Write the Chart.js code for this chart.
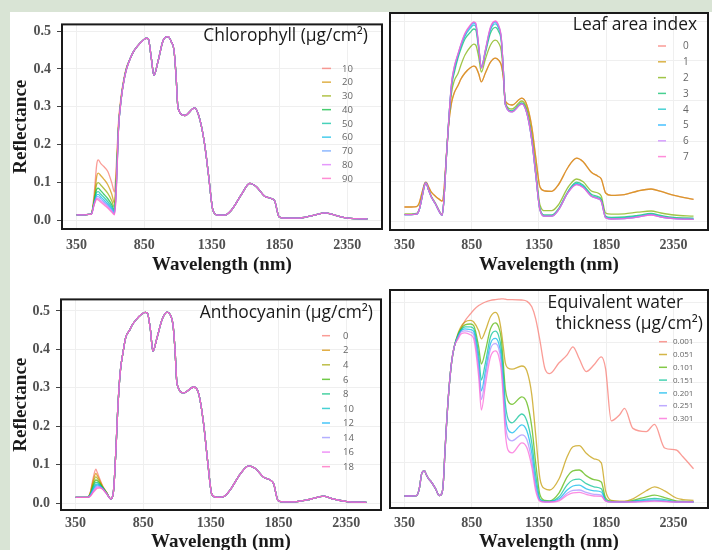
<!DOCTYPE html>
<html>
<head>
<meta charset="utf-8">
<script src="https://cdn.jsdelivr.net/npm/chart.js@4.4.0/dist/chart.umd.min.js"></script>
<style>
body { margin: 0; width: 712px; height: 550px; overflow: hidden; background: #d9e4d5; position: relative; }
#card { position: absolute; left: 10px; top: 12px; width: 702px; height: 538px; background: #fff; }
canvas { position: absolute; }
</style>
</head>
<body>
<div id="card"></div>
<canvas id="chl" width="376" height="270" style="left:10px;top:10px"></canvas>
<canvas id="lai" width="326" height="270" style="left:386px;top:10px"></canvas>
<canvas id="anth" width="376" height="280" style="left:10px;top:285px"></canvas>
<canvas id="ewt" width="326" height="280" style="left:386px;top:285px"></canvas>
<script>
// wavelength grids (nm)
var wlHead = [350,400,440,460,480,500,510,530,550,580,610,630,640,650,660,680,700,720];
var wlTail = [750,770,800,840,865,880,902,922,952,990,1026,1050,1070,1085,1100,1150,1223,1260,1297,1326,1358,1395,1445,1494,1568,1630,1679,1740,1789,1814,1846,1888,1986,2085,2184,2258,2356,2500];
var wlEwtTail = [750,770,800,840,865,902,922,952,990,1026,1050,1070,1085,1100,1120,1150,1223,1260,1297,1326,1358,1395,1430,1500,1560,1603,1650,1702,1760,1814,1846,1888,1950,1987,2049,2148,2210,2285,2371,2421,2500];

var xTicks = [350, 850, 1350, 1850, 2350];
var yTicks = [0, 0.1, 0.2, 0.3, 0.4, 0.5];

// Chlorophyll (ug/cm2)
var chlLevels = ['10','20','30','40','50','60','70','80','90'];
var chlVis = [
  [0.015,0.015,0.016,0.018,0.07,0.15,0.16,0.15,0.143,0.13,0.10,0.075,0.12,0.19,0.26,0.33,0.375,0.405],
  [0.015,0.015,0.016,0.018,0.058,0.118,0.125,0.118,0.11,0.095,0.07,0.046,0.095,0.17,0.25,0.325,0.372,0.403],
  [0.015,0.015,0.016,0.018,0.053,0.097,0.1,0.093,0.085,0.072,0.052,0.035,0.08,0.16,0.245,0.323,0.37,0.402],
  [0.015,0.015,0.016,0.018,0.05,0.083,0.085,0.078,0.07,0.058,0.042,0.028,0.07,0.155,0.243,0.322,0.37,0.402],
  [0.015,0.015,0.016,0.018,0.047,0.075,0.076,0.069,0.062,0.05,0.036,0.024,0.064,0.15,0.242,0.321,0.37,0.401],
  [0.015,0.015,0.016,0.017,0.045,0.068,0.069,0.062,0.055,0.044,0.031,0.021,0.06,0.146,0.241,0.32,0.369,0.401],
  [0.015,0.015,0.016,0.017,0.043,0.063,0.063,0.057,0.05,0.04,0.028,0.019,0.056,0.143,0.24,0.32,0.369,0.4],
  [0.015,0.015,0.016,0.017,0.042,0.059,0.058,0.052,0.046,0.036,0.025,0.017,0.053,0.14,0.24,0.32,0.368,0.4],
  [0.015,0.015,0.016,0.017,0.041,0.056,0.054,0.048,0.042,0.033,0.022,0.015,0.05,0.138,0.24,0.32,0.368,0.4]
];
var chlTail = [0.43,0.445,0.46,0.475,0.481,0.48,0.43,0.383,0.42,0.475,0.485,0.472,0.45,0.385,0.297,0.277,0.297,0.268,0.20,0.118,0.027,0.014,0.014,0.027,0.068,0.098,0.089,0.064,0.058,0.052,0.01,0.006,0.006,0.012,0.02,0.014,0.006,0.004];

// Leaf area index
var laiLevels = ['0','1','2','3','4','5','6','7'];
var laiVis = [
  [0.035,0.035,0.036,0.045,0.07,0.094,0.097,0.085,0.072,0.062,0.054,0.05,0.062,0.105,0.155,0.245,0.295,0.32],
  [0.035,0.035,0.036,0.045,0.07,0.094,0.097,0.085,0.072,0.062,0.054,0.05,0.062,0.105,0.155,0.245,0.295,0.32],
  [0.018,0.018,0.019,0.03,0.06,0.092,0.096,0.078,0.062,0.045,0.025,0.016,0.04,0.09,0.15,0.25,0.32,0.35],
  [0.016,0.016,0.017,0.028,0.058,0.09,0.095,0.077,0.06,0.043,0.023,0.014,0.038,0.088,0.15,0.255,0.335,0.37],
  [0.016,0.016,0.017,0.028,0.058,0.09,0.095,0.077,0.06,0.043,0.023,0.014,0.038,0.088,0.15,0.255,0.34,0.378],
  [0.016,0.016,0.017,0.028,0.058,0.09,0.095,0.077,0.06,0.043,0.023,0.014,0.038,0.088,0.15,0.255,0.342,0.382],
  [0.016,0.016,0.017,0.028,0.058,0.09,0.095,0.077,0.06,0.043,0.023,0.014,0.038,0.088,0.15,0.255,0.343,0.384],
  [0.016,0.016,0.017,0.028,0.058,0.09,0.095,0.077,0.06,0.043,0.023,0.014,0.038,0.088,0.15,0.255,0.344,0.385]
];
var laiTail = [
  [0.34,0.355,0.37,0.383,0.387,0.385,0.368,0.348,0.37,0.397,0.407,0.402,0.39,0.36,0.30,0.29,0.307,0.29,0.235,0.16,0.085,0.075,0.074,0.09,0.135,0.157,0.148,0.122,0.112,0.105,0.07,0.064,0.066,0.075,0.08,0.074,0.064,0.054],
  [0.34,0.355,0.37,0.383,0.387,0.385,0.368,0.348,0.37,0.397,0.407,0.402,0.39,0.36,0.30,0.29,0.307,0.29,0.235,0.16,0.085,0.075,0.074,0.09,0.135,0.157,0.148,0.122,0.112,0.105,0.07,0.064,0.066,0.075,0.08,0.074,0.064,0.054],
  [0.37,0.39,0.415,0.435,0.442,0.44,0.41,0.372,0.405,0.44,0.452,0.445,0.425,0.37,0.295,0.28,0.30,0.28,0.215,0.13,0.04,0.026,0.026,0.04,0.085,0.105,0.098,0.075,0.07,0.062,0.02,0.017,0.018,0.022,0.025,0.02,0.015,0.012],
  [0.41,0.43,0.455,0.472,0.48,0.478,0.43,0.384,0.42,0.47,0.484,0.474,0.45,0.38,0.293,0.275,0.295,0.273,0.205,0.12,0.03,0.015,0.015,0.03,0.075,0.097,0.09,0.067,0.061,0.054,0.012,0.009,0.01,0.014,0.019,0.014,0.009,0.007],
  [0.415,0.437,0.462,0.482,0.49,0.487,0.435,0.385,0.425,0.478,0.493,0.482,0.455,0.38,0.292,0.274,0.294,0.271,0.203,0.118,0.028,0.013,0.013,0.028,0.073,0.094,0.087,0.064,0.058,0.051,0.01,0.007,0.008,0.012,0.017,0.012,0.007,0.005],
  [0.418,0.44,0.466,0.487,0.495,0.492,0.437,0.383,0.426,0.482,0.497,0.486,0.457,0.38,0.291,0.273,0.293,0.27,0.202,0.117,0.027,0.012,0.012,0.027,0.072,0.092,0.085,0.062,0.056,0.049,0.008,0.005,0.006,0.01,0.016,0.01,0.006,0.004],
  [0.419,0.441,0.468,0.489,0.497,0.494,0.438,0.382,0.427,0.484,0.499,0.488,0.458,0.38,0.291,0.273,0.293,0.27,0.202,0.117,0.027,0.012,0.012,0.027,0.072,0.091,0.084,0.062,0.056,0.049,0.008,0.005,0.006,0.01,0.015,0.01,0.006,0.004],
  [0.42,0.442,0.469,0.49,0.498,0.495,0.439,0.382,0.428,0.485,0.5,0.489,0.459,0.38,0.291,0.273,0.293,0.27,0.202,0.117,0.027,0.012,0.012,0.027,0.072,0.091,0.084,0.062,0.056,0.049,0.008,0.005,0.006,0.01,0.015,0.01,0.006,0.004]
];

// Anthocyanin (ug/cm2)
var anthLevels = ['0','2','4','6','8','10','12','14','16','18'];
var anthVis = [
  [0.015,0.015,0.015,0.03,0.065,0.088,0.08,0.062,0.045,0.028,0.011,0.03,0.08,0.15,0.23,0.34,0.39,0.43],
  [0.015,0.015,0.015,0.028,0.058,0.077,0.072,0.058,0.043,0.027,0.011,0.03,0.08,0.15,0.23,0.34,0.39,0.43],
  [0.015,0.015,0.015,0.026,0.052,0.068,0.065,0.054,0.042,0.027,0.011,0.03,0.08,0.15,0.23,0.34,0.39,0.43],
  [0.015,0.015,0.015,0.024,0.046,0.06,0.059,0.051,0.041,0.026,0.011,0.03,0.08,0.15,0.23,0.34,0.39,0.43],
  [0.015,0.015,0.015,0.023,0.042,0.054,0.054,0.048,0.04,0.026,0.011,0.03,0.08,0.15,0.23,0.34,0.39,0.43],
  [0.015,0.015,0.015,0.022,0.038,0.049,0.05,0.046,0.039,0.025,0.011,0.03,0.08,0.15,0.23,0.34,0.39,0.43],
  [0.015,0.015,0.015,0.021,0.035,0.045,0.047,0.044,0.038,0.025,0.011,0.03,0.08,0.15,0.23,0.34,0.39,0.43],
  [0.015,0.015,0.015,0.02,0.032,0.041,0.044,0.042,0.037,0.024,0.011,0.03,0.08,0.15,0.23,0.34,0.39,0.43],
  [0.015,0.015,0.015,0.019,0.029,0.038,0.041,0.041,0.037,0.024,0.011,0.03,0.08,0.15,0.23,0.34,0.39,0.43],
  [0.015,0.015,0.015,0.018,0.027,0.035,0.038,0.039,0.036,0.024,0.011,0.03,0.08,0.15,0.23,0.34,0.39,0.43]
];
var anthTail = [0.45,0.464,0.478,0.492,0.496,0.495,0.455,0.395,0.43,0.478,0.497,0.49,0.465,0.40,0.31,0.287,0.302,0.285,0.205,0.11,0.022,0.015,0.017,0.035,0.076,0.097,0.09,0.067,0.06,0.05,0.007,0.003,0.004,0.01,0.018,0.01,0.004,0.002];

// Equivalent water thickness
var ewtLevels = ['0.001','0.051','0.101','0.151','0.201','0.251','0.301'];
var ewtVis = [0.017,0.017,0.018,0.035,0.075,0.08,0.072,0.06,0.052,0.036,0.018,0.025,0.055,0.12,0.18,0.28,0.35,0.39];
var ewtTail = [
  [0.415,0.435,0.455,0.472,0.482,0.493,0.497,0.502,0.506,0.508,0.509,0.51,0.51,0.509,0.508,0.508,0.507,0.504,0.49,0.46,0.405,0.335,0.323,0.35,0.37,0.39,0.36,0.328,0.345,0.365,0.335,0.205,0.22,0.236,0.186,0.178,0.196,0.137,0.132,0.115,0.085],
  [0.425,0.44,0.452,0.456,0.452,0.43,0.41,0.43,0.465,0.476,0.465,0.43,0.39,0.35,0.337,0.334,0.342,0.33,0.27,0.17,0.06,0.035,0.032,0.06,0.115,0.14,0.143,0.124,0.11,0.10,0.03,0.006,0.004,0.004,0.01,0.03,0.04,0.03,0.012,0.008,0.006],
  [0.422,0.435,0.445,0.447,0.443,0.39,0.347,0.38,0.435,0.45,0.44,0.41,0.35,0.285,0.255,0.246,0.265,0.25,0.19,0.10,0.02,0.006,0.005,0.025,0.065,0.08,0.082,0.068,0.058,0.052,0.012,0.004,0.003,0.003,0.006,0.015,0.019,0.013,0.005,0.004,0.003],
  [0.42,0.432,0.44,0.44,0.435,0.37,0.307,0.35,0.415,0.429,0.418,0.385,0.325,0.25,0.21,0.2,0.222,0.205,0.15,0.07,0.01,0.004,0.004,0.015,0.045,0.057,0.059,0.048,0.04,0.035,0.008,0.003,0.002,0.002,0.004,0.009,0.011,0.008,0.003,0.003,0.002],
  [0.418,0.43,0.435,0.433,0.428,0.35,0.28,0.33,0.398,0.411,0.4,0.365,0.3,0.22,0.183,0.175,0.195,0.18,0.125,0.05,0.007,0.003,0.003,0.01,0.032,0.042,0.044,0.035,0.03,0.027,0.006,0.002,0.002,0.002,0.003,0.006,0.007,0.005,0.002,0.002,0.002],
  [0.415,0.427,0.43,0.427,0.42,0.335,0.258,0.315,0.385,0.398,0.387,0.35,0.28,0.2,0.162,0.155,0.17,0.158,0.105,0.04,0.005,0.002,0.002,0.007,0.024,0.031,0.032,0.026,0.021,0.019,0.005,0.002,0.002,0.002,0.002,0.004,0.005,0.004,0.002,0.002,0.002],
  [0.41,0.422,0.425,0.42,0.41,0.315,0.232,0.295,0.365,0.38,0.368,0.33,0.26,0.175,0.132,0.125,0.15,0.138,0.09,0.03,0.004,0.002,0.002,0.005,0.019,0.025,0.026,0.021,0.017,0.016,0.004,0.002,0.002,0.002,0.002,0.003,0.004,0.003,0.002,0.002,0.002]
];

// ggplot default hue palettes
var hue7 = ['#F8766D','#C49A00','#53B400','#00C094','#00B6EB','#A58AFF','#FB61D7'];
var hue8 = ['#F8766D','#CD9600','#7CAE00','#00BE67','#00BFC4','#00A9FF','#C77CFF','#FF61CC'];
var hue9 = ['#F8766D','#D39200','#93AA00','#00BA38','#00C19F','#00B9E3','#619CFF','#DB72FB','#FF61C3'];
var hue10 = ['#F8766D','#D89000','#A3A500','#39B600','#00BF7D','#00BFC4','#00B0F6','#9590FF','#E76BF3','#FF62BC'];

function alpha(hex, a) {
  var n = parseInt(hex.slice(1), 16);
  return 'rgba(' + (n >> 16) + ',' + ((n >> 8) & 255) + ',' + (n & 255) + ',' + a + ')';
}

function points(xs, ys) {
  return xs.map(function (x, i) { return { x: x, y: ys[i] }; });
}

function makeSets(levels, colors, xs, rows) {
  return levels.map(function (lv, i) {
    return {
      label: lv,
      data: points(xs, rows[i]),
      borderColor: alpha(colors[i], 0.72),
      borderWidth: 1.3,
      pointRadius: 0,
      cubicInterpolationMode: 'monotone',
      order: -i
    };
  });
}

// box, in-panel title and legend
var panelDecor = {
  id: 'panelDecor',
  afterDatasetsDraw: function (chart, args, o) {
    var ctx = chart.ctx, a = chart.chartArea;
    ctx.save();
    ctx.strokeStyle = '#1a1a1a';
    ctx.lineWidth = 2;
    ctx.strokeRect(a.left, a.top, a.right - a.left, a.bottom - a.top);

    ctx.fillStyle = '#1a1a1a';
    ctx.font = '17.4px "Open Sans"';
    ctx.textAlign = 'right';
    ctx.textBaseline = 'middle';
    o.title.forEach(function (t) { ctx.fillText(t.text, a.right + t.dx, a.top + t.dy); });

    var L = o.legend;
    ctx.font = L.size + 'px "Open Sans"';
    ctx.textAlign = 'left';
    chart.data.datasets.forEach(function (d, i) {
      var y = a.top + L.top + i * L.step;
      ctx.strokeStyle = d.borderColor;
      ctx.lineWidth = 1.5;
      ctx.beginPath();
      ctx.moveTo(a.right + L.key, y);
      ctx.lineTo(a.right + L.key + L.keyLen, y);
      ctx.stroke();
      ctx.fillStyle = '#666';
      ctx.fillText(d.label, a.right + L.text, y + 0.5);
    });
    ctx.restore();
  }
};

function makeChart(id, sets, p) {
  return new Chart(document.getElementById(id), {
    type: 'line',
    data: { datasets: sets },
    plugins: [panelDecor],
    options: {
      responsive: false,
      animation: false,
      events: [],
      layout: { padding: { top: p.padTop, right: p.padRight, left: 0, bottom: 0 } },
      plugins: {
        legend: { display: false },
        tooltip: { enabled: false },
        panelDecor: { title: p.title, legend: p.legend }
      },
      scales: {
        x: {
          type: 'linear',
          min: 242.5,
          max: 2607.5,
          afterBuildTicks: function (s) { s.ticks = xTicks.map(function (v) { return { value: v }; }); },
          afterFit: function (s) { s.height = p.xh; },
          grid: { color: '#efefef', drawTicks: false },
          border: { display: false },
          ticks: {
            autoSkip: false, maxRotation: 0, padding: p.xpad, color: '#505050',
            font: { family: 'Liberation Serif', weight: 'bold', size: 14 },
            callback: function (v) { return String(v); }
          },
          title: {
            display: true, text: 'Wavelength (nm)', color: '#1a1a1a',
            font: { family: 'Liberation Serif', weight: 'bold', size: 19 },
            padding: { top: 0, bottom: p.tpad }
          }
        },
        y: {
          type: 'linear',
          min: p.ymin,
          max: p.ymax,
          afterBuildTicks: function (s) { s.ticks = yTicks.map(function (v) { return { value: v }; }); },
          afterFit: function (s) { s.width = p.yw; },
          grid: { color: '#efefef', drawTicks: p.showY, tickLength: 5, tickColor: '#444' },
          border: { display: false },
          ticks: {
            display: p.showY, padding: 6, color: '#505050',
            font: { family: 'Liberation Serif', weight: 'bold', size: 14 },
            callback: function (v) { return v.toFixed(1); }
          },
          title: {
            display: p.showY, text: 'Reflectance', color: '#1a1a1a',
            font: { family: 'Liberation Serif', weight: 'bold', size: 19 },
            padding: { top: 0, bottom: 0 }
          }
        }
      }
    }
  });
}

var wlAll = wlHead.concat(wlTail);
var wlEwt = wlHead.concat(wlEwtTail);

makeChart('chl', makeSets(chlLevels, hue9, wlAll, chlVis.map(function (r) { return r.concat(chlTail); })), {
  padTop: 3, padRight: 4, xh: 51, yw: 52, xpad: 8, tpad: 4, ymin: -0.0225, ymax: 0.5175, showY: true,
  title: [{ text: 'Chlorophyll (μg/cm²)', dx: -14, dy: 12 }],
  legend: { key: -60, keyLen: 9, text: -40, top: 44, step: 13.75, size: 9.5 }
});

makeChart('lai', makeSets(laiLevels, hue8, wlAll, laiVis.map(function (r, i) { return r.concat(laiTail[i]); })), {
  padTop: 3, padRight: 4, xh: 50, yw: 4, xpad: 7, tpad: 4, ymin: -0.0225, ymax: 0.52, showY: false,
  title: [{ text: 'Leaf area index', dx: -11, dy: 12 }],
  legend: { key: -50, keyLen: 8, text: -25, top: 33, step: 15.8, size: 10 }
});

makeChart('anth', makeSets(anthLevels, hue10, wlAll, anthVis.map(function (r) { return r.concat(anthTail); })), {
  padTop: 6, padRight: 5, xh: 55, yw: 51, xpad: 5, tpad: 12, ymin: -0.018, ymax: 0.53, showY: true,
  title: [{ text: 'Anthocyanin (μg/cm²)', dx: -8, dy: 13.3 }],
  legend: { key: -59, keyLen: 8, text: -38, top: 36.3, step: 14.55, size: 9.5 }
});

makeChart('ewt', makeSets(ewtLevels, hue7, wlEwt, ewtTail.map(function (r) { return ewtVis.concat(r); })), {
  padTop: 5, padRight: 4, xh: 57, yw: 4, xpad: 7, tpad: 12, ymin: -0.013, ymax: 0.532, showY: false,
  title: [{ text: 'Equivalent water', dx: -25, dy: 13 }, { text: 'thickness (μg/cm²)', dx: -5, dy: 34 }],
  legend: { key: -49, keyLen: 8, text: -35, top: 51.7, step: 12.8, size: 8 }
});
</script>
</body>
</html>
